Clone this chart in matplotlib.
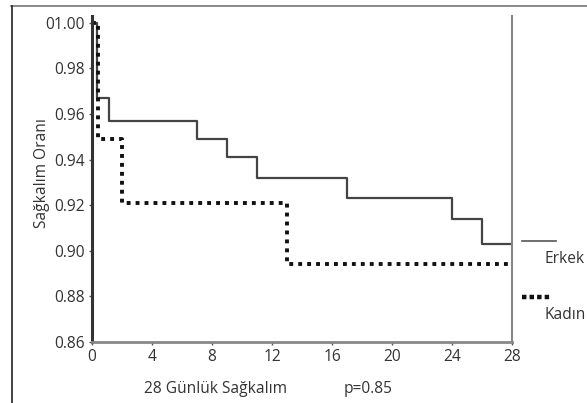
import matplotlib
matplotlib.use("Agg")
import matplotlib.pyplot as plt
from matplotlib.lines import Line2D

plt.rcParams['font.family'] = ['Open Sans', 'DejaVu Sans']

# Data (Kaplan-Meier step curves)
erkek_days = [0, 0.33, 1.1, 7, 9, 11, 17, 24, 26, 28]
erkek_surv = [1.000, 0.967, 0.957, 0.949, 0.941, 0.932, 0.923, 0.914, 0.903, 0.903]
kadin_days = [0, 0.4, 2, 13, 27.8]
kadin_surv = [1.000, 0.949, 0.921, 0.894, 0.894]

x_ticks = [0, 4, 8, 12, 16, 20, 24, 28]
y_ticks = [0.86, 0.88, 0.90, 0.92, 0.94, 0.96, 0.98, 1.00]
y_tick_labels = ["0.86", "0.88", "0.90", "0.92", "0.94", "0.96", "0.98", "01.00"]
series_names = ["Erkek", "Kadın"]
x_label = "28 Günlük Sağkalım"
y_label = "Sağkalım Oranı"
p_text = "p=0.85"

W, H = 587, 403
FS = 11.2
fig = plt.figure(figsize=(W / 100, H / 100), dpi=100)
ax = fig.add_axes([92 / W, 1 - 342 / H, (512 - 92) / W, (342 - 16) / H])

txt = '#333333'
ax.step(erkek_days, erkek_surv, where='post', color='#444444', lw=1.6)
ax.step(kadin_days, kadin_surv, where='post', color='#111111', lw=2.8,
        linestyle=(0, (1.0, 1.3)), dash_capstyle='butt')

ax.set_xlim(0, 28)
ax.set_ylim(0.86, 1.003)
ax.set_xticks(x_ticks)
ax.set_yticks(y_ticks)
ax.set_yticklabels(y_tick_labels)
ax.tick_params(axis='both', labelsize=FS, labelcolor=txt, color='#555555',
               length=2, width=1)
ax.tick_params(axis='x', pad=3)
ax.tick_params(axis='y', pad=3)

ax.spines['top'].set_visible(False)
ax.spines['left'].set_color('#333333')
ax.spines['left'].set_linewidth(2.2)
ax.spines['bottom'].set_color('#888888')
ax.spines['bottom'].set_linewidth(2.0)
ax.spines['right'].set_color('#888888')
ax.spines['right'].set_linewidth(1.5)

# labels
fig.text(42 / W, 1 - 173 / H, y_label, rotation=90, ha='center', va='center',
         fontsize=FS, color=txt)
fig.text(216 / W, 1 - 389 / H, x_label, ha='center', va='center',
         fontsize=FS, color=txt)
fig.text(344 / W, 1 - 389 / H, p_text, ha='left', va='center',
         fontsize=FS, color=txt)

# legend (manual)
fig.add_artist(Line2D([522 / W, 556 / W], [1 - 241 / H, 1 - 241 / H],
                      color='#555555', lw=1.2))
fig.text(544 / W, 1 - 259 / H, series_names[0], ha='left', va='center',
         fontsize=FS, color=txt)
fig.add_artist(Line2D([522 / W, 552 / W], [1 - 297 / H, 1 - 297 / H],
                      color='#111111', lw=3.2, linestyle=(0, (1.0, 0.7)),
                      dash_capstyle='butt'))
fig.text(544 / W, 1 - 315 / H, series_names[1], ha='left', va='center',
         fontsize=FS, color=txt)

# figure border (top and left)
fig.add_artist(Line2D([11 / W, 1], [1 - 5.5 / H, 1 - 5.5 / H], color='#777777', lw=1.2))
fig.add_artist(Line2D([11.5 / W, 11.5 / W], [0, 1 - 5.5 / H], color='#222222', lw=1.2))

fig.savefig("out.png", dpi=100)
